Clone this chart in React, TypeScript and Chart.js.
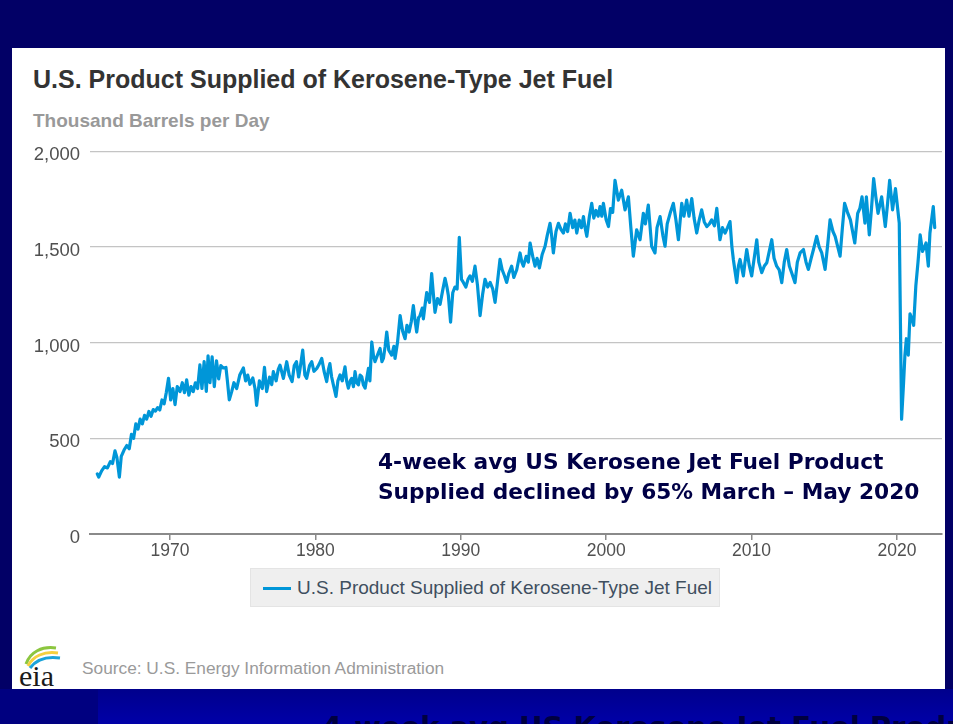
import React, { useEffect, useRef } from "react";
import { Chart, registerables } from "chart.js";

Chart.register(...registerables);

const chartTitle = "U.S. Product Supplied of Kerosene-Type Jet Fuel";
const unitLabel = "Thousand Barrels per Day";
const seriesName = "U.S. Product Supplied of Kerosene-Type Jet Fuel";
const sourceText = "Source: U.S. Energy Information Administration";
const noteLines = [
  "4-week avg US Kerosene Jet Fuel Product",
  "Supplied declined by 65% March \u2013 May 2020",
];
const footerText = "4-week avg US Kerosene Jet Fuel Product";

const xTickYears = [1970, 1980, 1990, 2000, 2010, 2020];
const yTickValues = [0, 500, 1000, 1500, 2000];

// Sample dates (decimal years)
const years = [
  1965.0, 1965.1, 1965.3, 1965.5, 1965.7, 1965.9, 1966.05, 1966.22, 1966.35, 1966.52,
  1966.65, 1966.85, 1967.03, 1967.2, 1967.35, 1967.5, 1967.65, 1967.8, 1967.95, 1968.1,
  1968.25, 1968.4, 1968.55, 1968.7, 1968.85, 1969.0, 1969.15, 1969.3, 1969.45, 1969.6,
  1969.75, 1969.9, 1970.05, 1970.2, 1970.35, 1970.5, 1970.69, 1970.85, 1971.0, 1971.15,
  1971.3, 1971.45, 1971.6, 1971.75, 1971.9, 1972.06, 1972.2, 1972.35, 1972.5, 1972.62,
  1972.75, 1972.9, 1973.05, 1973.2, 1973.35, 1973.5, 1973.67, 1973.85, 1973.95, 1974.08,
  1974.25, 1974.4, 1974.59, 1974.8, 1975.05, 1975.2, 1975.35, 1975.5, 1975.7, 1975.85,
  1975.96, 1976.15, 1976.35, 1976.5, 1976.65, 1976.85, 1977.0, 1977.11, 1977.3, 1977.45,
  1977.57, 1977.8, 1978.03, 1978.2, 1978.4, 1978.55, 1978.7, 1978.85, 1978.95, 1979.13,
  1979.28, 1979.4, 1979.6, 1979.75, 1979.9, 1980.1, 1980.25, 1980.44, 1980.6, 1980.78,
  1980.9, 1981.0, 1981.12, 1981.24, 1981.42, 1981.55, 1981.7, 1981.85, 1982.04, 1982.15,
  1982.27, 1982.4, 1982.5, 1982.62, 1982.73, 1982.85, 1982.96, 1983.08, 1983.19, 1983.3,
  1983.42, 1983.55, 1983.65, 1983.75, 1983.88, 1984.0, 1984.1, 1984.3, 1984.45, 1984.58,
  1984.68, 1984.8, 1984.91, 1985.05, 1985.25, 1985.4, 1985.48, 1985.65, 1985.83, 1986.0,
  1986.17, 1986.3, 1986.45, 1986.6, 1986.74, 1986.85, 1986.97, 1987.1, 1987.2, 1987.35,
  1987.43, 1987.55, 1987.66, 1987.85, 1988.0, 1988.12, 1988.23, 1988.4, 1988.58, 1988.75,
  1988.92, 1989.05, 1989.15, 1989.3, 1989.45, 1989.6, 1989.75, 1989.9, 1990.05, 1990.18,
  1990.35, 1990.5, 1990.64, 1990.8, 1990.98, 1991.15, 1991.33, 1991.5, 1991.67, 1991.85,
  1992.02, 1992.2, 1992.36, 1992.5, 1992.7, 1992.85, 1993.0, 1993.16, 1993.3, 1993.5,
  1993.65, 1993.85, 1994.08, 1994.2, 1994.31, 1994.5, 1994.65, 1994.77, 1994.95, 1995.11,
  1995.25, 1995.41, 1995.6, 1995.8, 1995.95, 1996.14, 1996.25, 1996.37, 1996.55, 1996.72,
  1996.9, 1997.06, 1997.2, 1997.35, 1997.52, 1997.7, 1997.85, 1997.98, 1998.15, 1998.3,
  1998.44, 1998.55, 1998.67, 1998.85, 1999.01, 1999.15, 1999.3, 1999.45, 1999.58, 1999.7,
  1999.81, 2000.0, 2000.16, 2000.3, 2000.45, 2000.61, 2000.84, 2001.07, 2001.3, 2001.53,
  2001.7, 2001.87, 2002.1, 2002.33, 2002.56, 2002.7, 2002.9, 2003.13, 2003.36, 2003.5,
  2003.71, 2003.9, 2004.05, 2004.2, 2004.4, 2004.62, 2004.8, 2004.97, 2005.2, 2005.35,
  2005.54, 2005.7, 2005.89, 2006.05, 2006.23, 2006.4, 2006.57, 2006.75, 2006.92, 2007.1,
  2007.26, 2007.45, 2007.61, 2007.83, 2008.0, 2008.18, 2008.35, 2008.52, 2008.65, 2008.75,
  2008.85, 2008.98, 2009.1, 2009.21, 2009.44, 2009.55, 2009.67, 2009.85, 2010.01, 2010.2,
  2010.36, 2010.5, 2010.7, 2010.88, 2011.05, 2011.2, 2011.39, 2011.55, 2011.73, 2011.9,
  2012.08, 2012.25, 2012.42, 2012.6, 2012.76, 2012.99, 2013.15, 2013.34, 2013.57, 2013.75,
  2013.91, 2014.1, 2014.26, 2014.48, 2014.65, 2014.83, 2015.06, 2015.25, 2015.4, 2015.6,
  2015.75, 2016.09, 2016.25, 2016.4, 2016.6, 2016.8, 2017.1, 2017.3, 2017.45, 2017.6,
  2017.8, 2017.9, 2018.1, 2018.25, 2018.4, 2018.55, 2018.7, 2018.95, 2019.2, 2019.35,
  2019.5, 2019.7, 2019.9, 2020.05, 2020.16, 2020.32, 2020.45, 2020.55, 2020.65, 2020.78,
  2020.9, 2021.05, 2021.15, 2021.3, 2021.45, 2021.6, 2021.76, 2021.9, 2022.0, 2022.16,
  2022.27, 2022.5, 2022.6,
];

// Product supplied, thousand barrels per day
const supplied = [
  314, 297, 330, 352, 345, 378, 368, 434, 400, 297,
  405, 440, 462, 445, 520, 500, 575, 548, 600, 575,
  620, 600, 640, 615, 650, 642, 660, 648, 700, 680,
  740, 813, 700, 760, 676, 770, 744, 790, 738, 805,
  725, 770, 744, 790, 760, 883, 760, 900, 745, 930,
  790, 925, 770, 905, 810, 880, 867, 870, 800, 701,
  745, 790, 760, 830, 867, 800, 830, 782, 815, 760,
  672, 800, 760, 870, 744, 820, 780, 848, 800, 860,
  882, 813, 900, 830, 796, 880, 900, 820, 865, 960,
  830, 813, 880, 900, 850, 865, 885, 917, 850, 796,
  860, 890, 820, 779, 719, 800, 831, 800, 873, 800,
  762, 800, 813, 770, 848, 790, 779, 830, 822, 780,
  762, 820, 865, 800, 1003, 930, 900, 940, 969, 900,
  917, 980, 1055, 960, 934, 980, 917, 1000, 1141, 1060,
  1020, 1090, 1055, 1110, 1193, 1120, 1055, 1130, 1141, 1180,
  1124, 1200, 1261, 1210, 1360, 1250, 1158, 1230, 1200, 1270,
  1335, 1290, 1244, 1107, 1260, 1290, 1280, 1550, 1330, 1314,
  1290, 1330, 1348, 1320, 1399, 1300, 1141, 1250, 1330, 1290,
  1314, 1280, 1210, 1300, 1434, 1380, 1350, 1314, 1360, 1399,
  1340, 1380, 1468, 1420, 1399, 1450, 1420, 1520, 1450, 1399,
  1440, 1390, 1460, 1503, 1560, 1623, 1560, 1468, 1580, 1623,
  1590, 1572, 1620, 1580, 1675, 1600, 1640, 1572, 1640, 1600,
  1658, 1600, 1555, 1660, 1727, 1650, 1690, 1660, 1710, 1660,
  1727, 1641, 1606, 1700, 1680, 1847, 1744, 1796, 1693, 1761,
  1600, 1451, 1589, 1537, 1675, 1620, 1718, 1503, 1468, 1600,
  1658, 1560, 1503, 1620, 1675, 1727, 1640, 1537, 1727, 1660,
  1744, 1660, 1752, 1650, 1572, 1640, 1693, 1630, 1606, 1620,
  1641, 1610, 1701, 1537, 1600, 1572, 1600, 1632, 1500, 1434,
  1380, 1313, 1400, 1434, 1348, 1420, 1486, 1400, 1348, 1450,
  1537, 1420, 1365, 1400, 1417, 1470, 1537, 1440, 1399, 1380,
  1313, 1420, 1486, 1400, 1365, 1313, 1420, 1468, 1486, 1420,
  1382, 1440, 1486, 1555, 1500, 1468, 1382, 1520, 1641, 1580,
  1555, 1451, 1600, 1727, 1680, 1641, 1520, 1675, 1700, 1761,
  1624, 1761, 1562, 1700, 1856, 1760, 1675, 1761, 1606, 1720,
  1847, 1693, 1804, 1700, 1624, 600, 780, 934, 1020, 934,
  1150, 1120, 1090, 1296, 1420, 1562, 1476, 1500, 1520, 1399,
  1572, 1710, 1600,
];

const LINE_COLOR = "#0096d8";
const SANS = "'Liberation Sans', Arial, sans-serif";

function JetFuelChart() {
  const canvasRef = useRef<HTMLCanvasElement | null>(null);

  useEffect(() => {
    const canvas = canvasRef.current;
    if (!canvas) return;
    const chart = new Chart(canvas, {
      type: "line",
      data: {
        datasets: [
          {
            label: seriesName,
            data: years.map((x, i) => ({ x, y: supplied[i] })),
            borderColor: LINE_COLOR,
            backgroundColor: LINE_COLOR,
            borderWidth: 3.2,
            pointRadius: 0,
            tension: 0,
            borderJoinStyle: "round",
            borderCapStyle: "round",
          },
        ],
      },
      options: {
        animation: false,
        responsive: false,
        devicePixelRatio: 1,
        layout: { padding: { top: 17, right: 3, left: 0, bottom: 0 } },
        plugins: {
          legend: { display: false },
          tooltip: { enabled: false },
          title: { display: false },
        },
        scales: {
          x: {
            type: "linear",
            min: 1964.5,
            max: 2023.1,
            afterBuildTicks: (scale: any) => {
              scale.ticks = xTickYears.map((v) => ({ value: v }));
            },
            afterFit: (scale: any) => {
              scale.height = 26;
            },
            border: { display: true, color: "#8a8a8a", width: 2 },
            grid: {
              drawOnChartArea: false,
              drawTicks: true,
              tickLength: 6,
              color: "#8a8a8a",
              lineWidth: 1.5,
            },
            ticks: {
              autoSkip: false,
              maxRotation: 0,
              padding: 1,
              color: "#505050",
              font: { family: SANS, size: 17.5 },
              callback: (v: any) => String(v),
            },
          },
          y: {
            type: "linear",
            min: 0,
            max: 2000,
            afterBuildTicks: (scale: any) => {
              scale.ticks = yTickValues.map((v) => ({ value: v }));
            },
            afterFit: (scale: any) => {
              scale.width = 78;
            },
            border: { display: false },
            grid: {
              drawTicks: false,
              color: "#c4c4c4",
              lineWidth: 1.2,
            },
            ticks: {
              padding: 10,
              labelOffset: 4,
              color: "#505050",
              font: { family: SANS, size: 18.5 },
              callback: (v: any) => Number(v).toLocaleString("en-US"),
            },
          },
        },
      },
    });
    return () => chart.destroy();
  }, []);

  return (
    <canvas
      ref={canvasRef}
      width={933}
      height={430}
      style={{ position: "absolute", left: 12, top: 130, width: 933, height: 430 }}
    />
  );
}

function EiaLogo() {
  return (
    <svg
      width={54}
      height={48}
      viewBox="0 0 54 48"
      style={{ position: "absolute", left: 16, top: 642 }}
    >
      <path d="M10 22 C 14 10, 26 4, 40 6" stroke="#8cc63f" strokeWidth={3} fill="none" />
      <path d="M12 24 C 17 14, 28 9, 42 11" stroke="#f4d03f" strokeWidth={3} fill="none" />
      <path d="M14 26 C 20 18, 30 14, 44 16" stroke="#1aa3d9" strokeWidth={3} fill="none" />
      <text
        x={3}
        y={44}
        fontFamily="'Liberation Serif', 'DejaVu Serif', serif"
        fontSize={30}
        fill="#1a1a1a"
      >
        eia
      </text>
    </svg>
  );
}

export default function App() {
  return (
    <div
      style={{
        position: "fixed",
        left: 0,
        top: 0,
        width: 953,
        height: 724,
        overflow: "hidden",
        background: "#020066",
      }}
    >
      {/* bottom band */}
      <div style={{ position: "absolute", left: 0, top: 689, width: 953, height: 35, background: "#000080" }} />
      <div
        style={{
          position: "absolute",
          left: 98,
          top: 689,
          width: 855,
          height: 35,
          background: "linear-gradient(#00008c, #0000a8)",
        }}
      />
      <div
        style={{
          position: "absolute",
          left: 322,
          top: 713,
          whiteSpace: "nowrap",
          fontFamily: "'DejaVu Sans', Verdana, sans-serif",
          fontWeight: "bold",
          fontSize: 29,
          lineHeight: "29px",
          color: "#000040",
        }}
      >
        {footerText}
      </div>

      {/* white panel */}
      <div
        style={{
          position: "absolute",
          left: 12,
          top: 48,
          width: 933,
          height: 641,
          background: "#ffffff",
        }}
      />

      <div
        style={{
          position: "absolute",
          left: 33,
          top: 65,
          fontFamily: SANS,
          fontWeight: "bold",
          fontSize: 25,
          lineHeight: "29px",
          color: "#333333",
          whiteSpace: "nowrap",
        }}
      >
        {chartTitle}
      </div>
      <div
        style={{
          position: "absolute",
          left: 33,
          top: 110,
          fontFamily: SANS,
          fontWeight: "bold",
          fontSize: 19,
          lineHeight: "22px",
          color: "#999999",
          whiteSpace: "nowrap",
        }}
      >
        {unitLabel}
      </div>

      <JetFuelChart />

      {/* annotation */}
      <div
        style={{
          position: "absolute",
          left: 378,
          top: 447,
          fontFamily: "'DejaVu Sans', Verdana, sans-serif",
          fontWeight: "bold",
          fontSize: 21.7,
          lineHeight: "30px",
          color: "#000046",
          whiteSpace: "nowrap",
        }}
      >
        {noteLines.map((l) => (
          <div key={l}>{l}</div>
        ))}
      </div>

      {/* legend */}
      <div
        style={{
          position: "absolute",
          left: 250,
          top: 568,
          width: 470,
          height: 39,
          background: "#efefef",
          border: "1px solid #e4e4e4",
          boxSizing: "border-box",
        }}
      >
        <div
          style={{
            position: "absolute",
            left: 12,
            top: 18,
            width: 28,
            height: 3,
            background: LINE_COLOR,
          }}
        />
        <div
          style={{
            position: "absolute",
            left: 46,
            top: 8,
            fontFamily: SANS,
            fontSize: 19,
            lineHeight: "22px",
            color: "#3f4f5f",
            whiteSpace: "nowrap",
          }}
        >
          {seriesName}
        </div>
      </div>

      {/* source */}
      <EiaLogo />
      <div
        style={{
          position: "absolute",
          left: 82,
          top: 658,
          fontFamily: SANS,
          fontSize: 17.3,
          lineHeight: "20px",
          color: "#9a9a9a",
          whiteSpace: "nowrap",
        }}
      >
        {sourceText}
      </div>
    </div>
  );
}
